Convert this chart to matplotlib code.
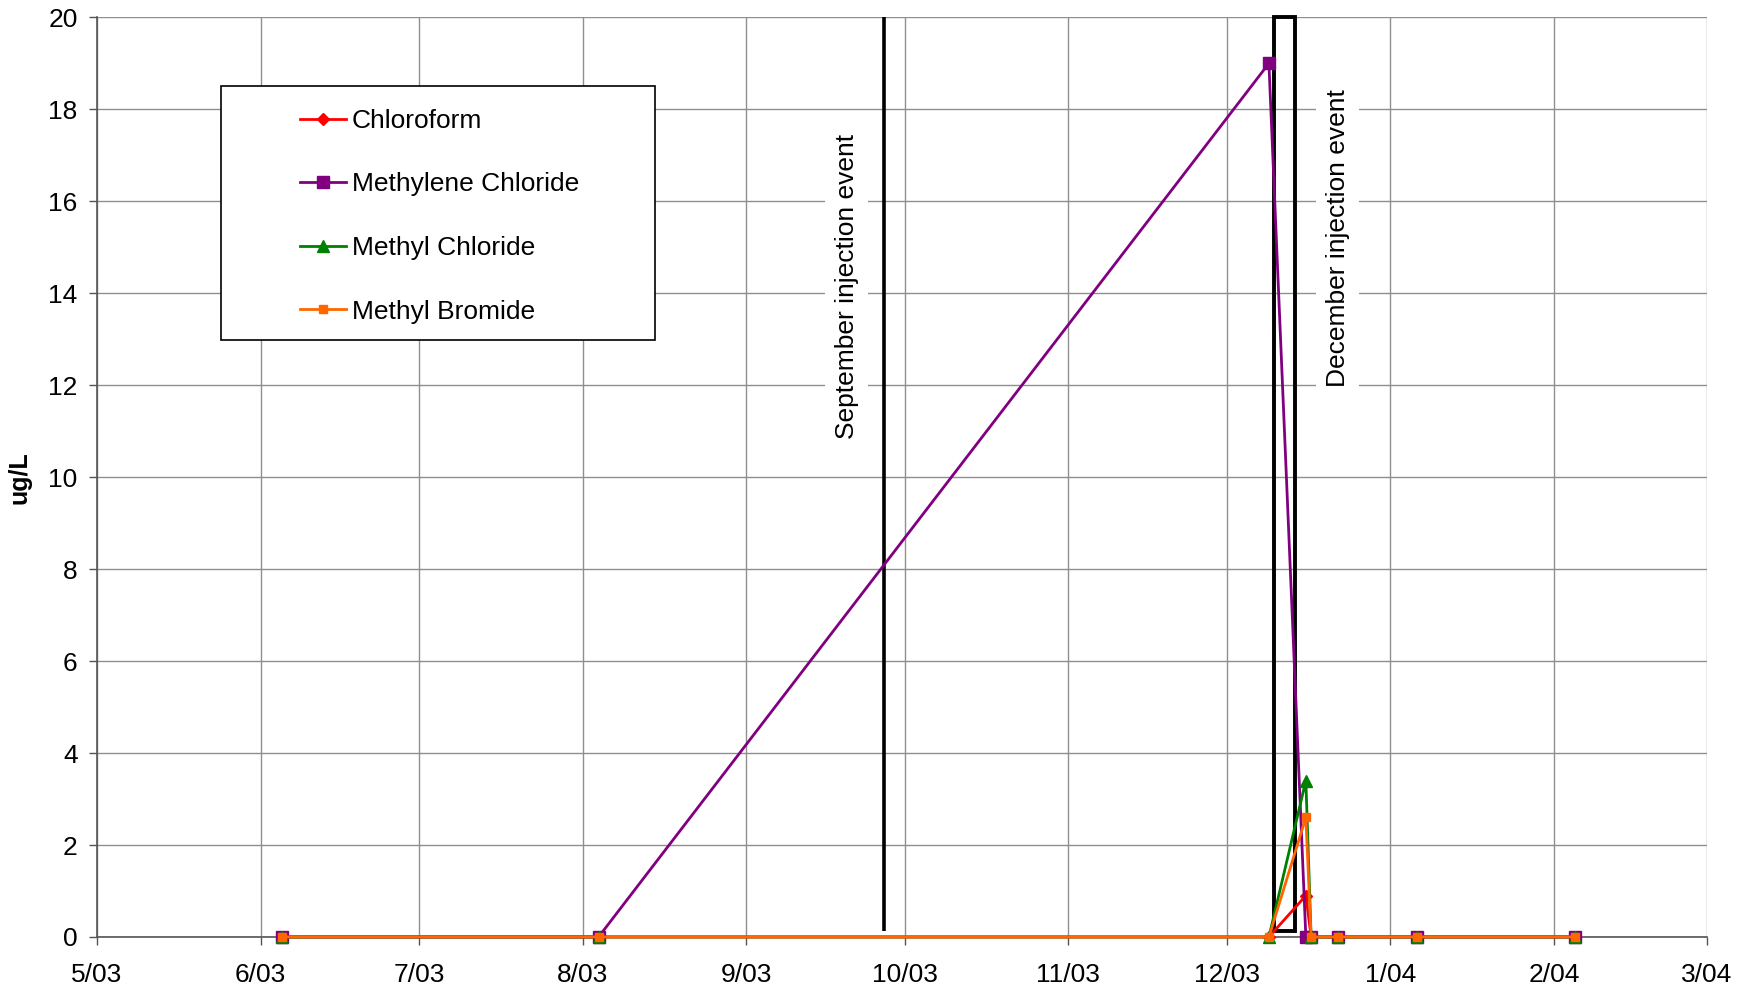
import matplotlib
matplotlib.use("Agg")
import matplotlib.pyplot as plt
import matplotlib.dates as mdates
from matplotlib.patches import Rectangle
import pandas as pd

# Sampling dates and concentrations (ug/L)
sample_dates = ["2003-06-05", "2003-08-04", "2003-12-09", "2003-12-16",
                "2003-12-17", "2003-12-22", "2004-01-06", "2004-02-05"]
chloroform = [0, 0, 0, 0.9, 0, 0, 0, 0]
methylene_chloride = [0, 0, 19.0, 0, 0, 0, 0, 0]
methyl_chloride = [0, 0, 0, 3.4, 0, 0, 0, 0]
methyl_bromide = [0, 0, 0, 2.6, 0, 0, 0, 0]
series_names = ["Chloroform", "Methylene Chloride", "Methyl Chloride", "Methyl Bromide"]

# Injection events
september_event = "2003-09-27"
december_event = ("2003-12-10", "2003-12-14")
event_labels = ["September injection event", "December injection event"]

x_start, x_end = "2003-05-01", "2004-03-01"
y_ticks = list(range(0, 21, 2))

plt.rcParams["font.family"] = ["Liberation Sans", "DejaVu Sans"]

dates = pd.to_datetime(sample_dates)
fig = plt.figure(figsize=(17.49, 9.91), dpi=100)
ax = fig.add_axes([0.0555, 0.0545, 0.9205, 0.928])

styles = [
    dict(color="#FF0000", marker="D", markersize=6),
    dict(color="#800080", marker="s", markersize=8),
    dict(color="#008000", marker="^", markersize=8.5),
    dict(color="#FF6600", marker="s", markersize=5.5),
]
values = [chloroform, methylene_chloride, methyl_chloride, methyl_bromide]
handles = []
for name, vals, st in zip(series_names, values, styles):
    h, = ax.plot(dates, vals, linewidth=2.0, label=name, zorder=5,
                 markeredgecolor=st["color"], clip_on=False, **st)
    handles.append(h)

# September event: single vertical line
sep = mdates.date2num(pd.Timestamp(september_event))
ax.plot([sep, sep], [0.12, 20], color="black", linewidth=2.6, zorder=4,
        solid_capstyle="butt", clip_on=False)

# December event: narrow rectangle spanning the injection period
d0 = mdates.date2num(pd.Timestamp(december_event[0]))
d1 = mdates.date2num(pd.Timestamp(december_event[1]))
ax.add_patch(Rectangle((d0, 0.12), d1 - d0, 20 - 0.12, fill=False,
                       edgecolor="black", linewidth=2.8, zorder=4, clip_on=False))

bbox = dict(boxstyle="square,pad=0.35", facecolor="white", edgecolor="none")
ax.text(mdates.date2num(pd.Timestamp("2003-09-20")), 14.15, event_labels[0],
        rotation=90, ha="center", va="center", fontsize=19, bbox=bbox, zorder=3)
ax.text(mdates.date2num(pd.Timestamp("2003-12-22")), 15.2, event_labels[1],
        rotation=90, ha="center", va="center", fontsize=19, bbox=bbox, zorder=3)

# Axes scales and ticks
months = pd.date_range(x_start, x_end, freq="MS")
ax.set_xlim(mdates.date2num(months[0]), mdates.date2num(months[-1]))
ax.set_ylim(0, 20)
ax.set_xticks(mdates.date2num(months))
ax.set_xticklabels([f"{d.month}/{d.strftime('%y')}" for d in months])
ax.set_yticks(y_ticks)
ax.tick_params(axis="both", labelsize=19, direction="out", length=6,
               color="#555555", width=1)
ax.tick_params(axis="x", pad=13)
ax.tick_params(axis="y", pad=8)
ax.grid(True, color="#8f8f8f", linewidth=1)
ax.set_axisbelow(True)
for side in ("top", "right"):
    ax.spines[side].set_visible(False)
for side in ("left", "bottom"):
    ax.spines[side].set_color("#555555")
    ax.spines[side].set_linewidth(1.2)

ax.set_ylabel("ug/L", fontsize=18, fontweight="bold")
ax.yaxis.set_label_coords(-0.041, 0.5)

# Legend box with entries
ax.add_patch(Rectangle((0.0770, 0.6496), 0.2696, 0.2753, transform=ax.transAxes,
                       facecolor="white", edgecolor="black", linewidth=1.2, zorder=6))
leg = ax.legend(handles=handles, loc="upper left", bbox_to_anchor=(0.1262, 0.9005),
                frameon=False, fontsize=19, handlelength=1.75, handletextpad=0.2,
                labelspacing=1.5, borderpad=0, borderaxespad=0)
leg.set_zorder(7)

fig.savefig("out.png", dpi=100)
